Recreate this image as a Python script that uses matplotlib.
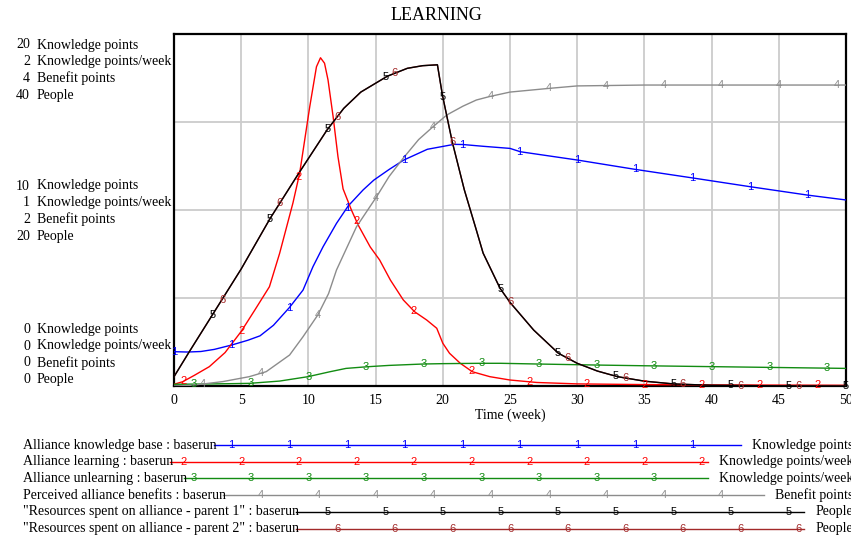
import numpy as np
import matplotlib
matplotlib.use("Agg")
import matplotlib.pyplot as plt
import matplotlib.transforms as mtransforms

plt.rcParams['font.family'] = ['Liberation Serif', 'DejaVu Serif']

# ---- data (weeks, value) ----
kb_t = [0, 1, 2, 3, 4.3, 5.5, 6.4, 7.4, 8.6, 9.6, 10.34, 11.09, 12.09, 12.96, 14.07, 14.87,
        16, 17.1, 18.85, 20.84, 21.5, 23, 25, 25.77, 30, 34.3, 38.6, 42.9, 47.2, 50]
kb_v = [1.95, 1.93, 1.96, 2.08, 2.33, 2.6, 2.85, 3.45, 4.47, 5.45, 6.78, 7.91, 9.24, 10.23, 11.14, 11.7,
        12.3, 12.84, 13.45, 13.73, 13.72, 13.62, 13.5, 13.31, 12.84, 12.31, 11.82, 11.32, 10.84, 10.57]

learn_t = [0, 0.64, 1.5, 2.63, 3.8, 5.0, 6.0, 7.1, 7.86, 8.85, 9.35, 10.1, 10.6, 10.9, 11.2, 11.46,
           11.84, 12.2, 12.58, 13.2, 13.7, 14.6, 15.3, 16.1, 17.06, 17.9, 18.8, 19.55, 20.0, 20.5, 21.3,
           22.2, 23.5, 25, 27, 30, 35, 40, 50]
learn_v = [0.01, 0.024, 0.06, 0.11, 0.19, 0.31, 0.43, 0.564, 0.754, 1.04, 1.209, 1.587, 1.814, 1.865, 1.834, 1.739,
           1.53, 1.303, 1.12, 1.0, 0.915, 0.79, 0.716, 0.602, 0.489, 0.422, 0.375, 0.328, 0.243, 0.186, 0.129,
           0.081, 0.053, 0.034, 0.02, 0.012, 0.008, 0.006, 0.004]

unlearn_t = [0, 2, 4, 5.6, 7.86, 9.97, 11.6, 12.8, 14.3, 16, 18.55, 20, 22.9, 24.3, 27, 31.5, 35, 40, 45, 50]
unlearn_v = [0.01, 0.011, 0.013, 0.015, 0.028, 0.053, 0.081, 0.1, 0.109, 0.117, 0.125, 0.127, 0.129, 0.129,
             0.125, 0.119, 0.115, 0.11, 0.105, 0.1]

benefit_t = [0, 1, 2, 3.63, 5.6, 6.86, 8.6, 9.6, 10.7, 11.5, 12.09, 13.58, 15.07, 16, 17.06, 18.2, 19.3,
             20.3, 21.5, 22.5, 23.5, 25, 27.76, 30, 35, 40, 50]
benefit_v = [0, 0.005, 0.02, 0.05, 0.106, 0.163, 0.352, 0.56, 0.807, 1.05, 1.318, 1.81, 2.15, 2.38, 2.59,
             2.8, 2.95, 3.08, 3.18, 3.25, 3.29, 3.34, 3.38, 3.41, 3.42, 3.42, 3.42]

res1_t = [0, 1.14, 2.93, 5, 7.16, 9.28, 11.39, 12.63, 13.9, 15.87, 17.36, 18.5, 19.6, 19.97, 20.7, 21.6,
          22.5, 23.0, 24.26, 25.0, 26.76, 28.6, 30.0, 31.5, 33.0, 35, 37.2, 40, 45, 50]
res1_v = [1.06, 3.9, 8.26, 13.3, 19.06, 24.17, 29.1, 31.55, 33.4, 35.2, 36.1, 36.4, 36.5, 33.07, 27.76, 22.3,
          17.7, 15.1, 11.1, 9.5, 6.36, 3.72, 2.58, 1.7, 1.06, 0.55, 0.23, 0.08, 0.02, 0.0]
res2_t = res1_t
res2_v = res1_v

series_names = ["Alliance knowledge base", "Alliance learning", "Alliance unlearning",
                "Perceived alliance benefits", '"Resources spent on alliance - parent 1"',
                '"Resources spent on alliance - parent 2"']
series_units = ["Knowledge points", "Knowledge points/week", "Knowledge points/week",
                "Benefit points", "People", "People"]
series_max = [20, 2, 2, 4, 40, 40]
series_colors = ["#0000ff", "#ff0000", "#128c12", "#8c8c8c", "#000000", "#a32929"]
series_t = [kb_t, learn_t, unlearn_t, benefit_t, res1_t, res2_t]
series_v = [kb_v, learn_v, unlearn_v, benefit_v, res1_v, res2_v]

axis_units = ["Knowledge points", "Knowledge points/week", "Benefit points", "People"]
axis_max = [20, 2, 4, 40]

W, H = 851, 538


def fx(px):
    return px / W


def fy(py):
    return 1 - py / H


fig = plt.figure(figsize=(W / 100, H / 100), dpi=100)
ax = fig.add_axes([fx(174), fy(386), fx(672), 352 / H])
ax.set_xlim(0, 50)
ax.set_ylim(0, 1)
ax.set_xticks(range(0, 51, 5))
ax.set_yticks([0, 0.25, 0.5, 0.75, 1])
ax.set_yticklabels([])
ax.grid(True, color="#cccccc", lw=1.3)
ax.set_axisbelow(True)
ax.tick_params(length=0, labelsize=10, pad=6)
for s in ax.spines.values():
    s.set_linewidth(1.6)
ax.set_xlabel("Time (week)", fontsize=10, labelpad=1)

# draw curves, parent 2 underneath parent 1
order = [0, 1, 2, 3, 5, 4]
for i in order:
    t = np.array(series_t[i], dtype=float)
    v = np.array(series_v[i], dtype=float) / series_max[i]
    ax.plot(t, v, color=series_colors[i], lw=1.0, zorder=3)

# numbered markers along each curve
step = 300 / 70
marker_x = []
for i in range(6):
    xs = np.arange(i * 50 / 70, 50.01, step)
    marker_x.append(xs)
    ys = np.interp(xs, series_t[i], series_v[i]) / series_max[i]
    for x, y in zip(xs, ys):
        ax.text(x, y, str(i + 1), color=series_colors[i], fontsize=8, family="Liberation Sans",
                ha="center", va="center", zorder=4, clip_on=False)

# stacked axis scale labels on the left
blocks = [(45, 1.0), (186, 0.5), (329.3, 0.0)]
for y0, frac in blocks:
    for j, (u, m) in enumerate(zip(axis_units, axis_max)):
        yy = y0 + j * 16.7
        fig.text(fx(30), fy(yy), f"{m * frac:g}", ha="right", va="center", fontsize=10)
        fig.text(fx(37), fy(yy), u, ha="left", va="center", fontsize=10)

fig.text(fx(436), fy(16), "LEARNING", ha="center", va="center", fontsize=13)

# legend at the bottom
fig.canvas.draw()
renderer = fig.canvas.get_renderer()
blend = mtransforms.blended_transform_factory(ax.transData, fig.transFigure)
inv = ax.transData.inverted()
for i in range(6):
    yy = 445 + i * 16.7
    lab = fig.text(fx(23), fy(yy), f"{series_names[i]} : baserun", ha="left", va="center", fontsize=10)
    un = fig.text(fx(853), fy(yy), series_units[i], ha="right", va="center", fontsize=10)
    x0 = lab.get_window_extent(renderer).x1 - 3
    x1 = un.get_window_extent(renderer).x0 - 11
    d0 = inv.transform((x0, 0))[0]
    d1 = inv.transform((x1, 0))[0]
    ax.plot([d0, d1], [fy(yy), fy(yy)], color=series_colors[i], lw=1.0, transform=blend, clip_on=False)
    for x in marker_x[i]:
        if d0 + 0.3 < x < d1:
            ax.text(x, fy(yy), str(i + 1), color=series_colors[i], fontsize=8, family="Liberation Sans",
                    ha="center", va="center", transform=blend, clip_on=False)

fig.savefig("out.png", dpi=100)
